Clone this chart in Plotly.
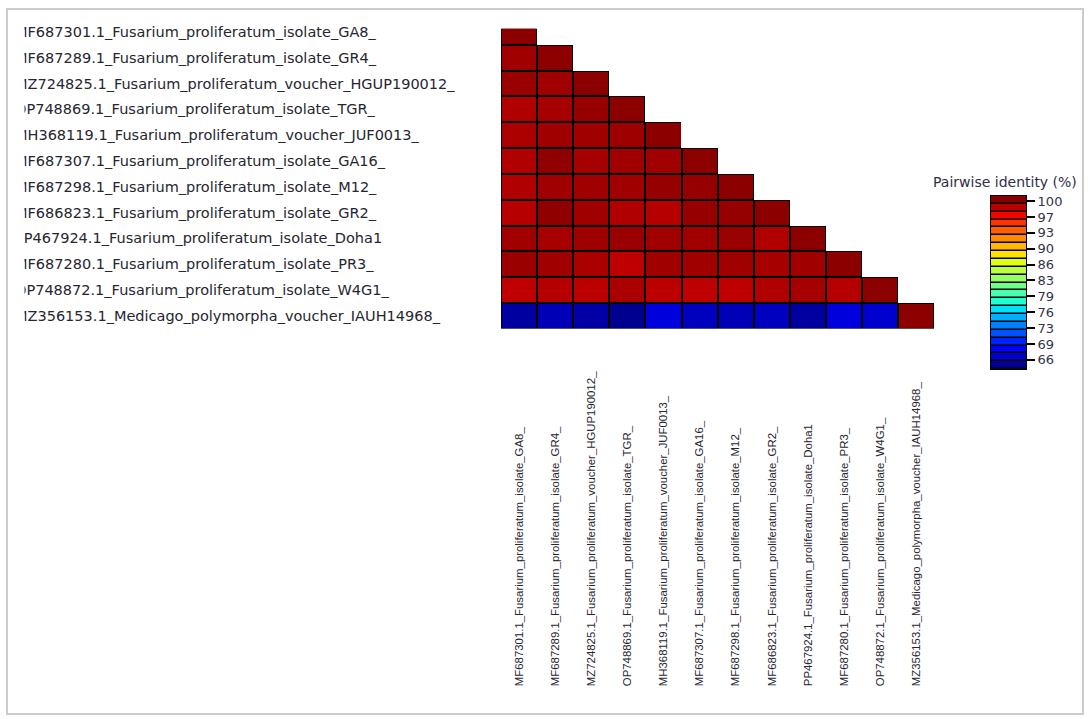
import numpy as np
import plotly.graph_objects as go

# ---------------- data ----------------
sequences = [
    "MF687301.1_Fusarium_proliferatum_isolate_GA8_",
    "MF687289.1_Fusarium_proliferatum_isolate_GR4_",
    "MZ724825.1_Fusarium_proliferatum_voucher_HGUP190012_",
    "OP748869.1_Fusarium_proliferatum_isolate_TGR_",
    "MH368119.1_Fusarium_proliferatum_voucher_JUF0013_",
    "MF687307.1_Fusarium_proliferatum_isolate_GA16_",
    "MF687298.1_Fusarium_proliferatum_isolate_M12_",
    "MF686823.1_Fusarium_proliferatum_isolate_GR2_",
    "PP467924.1_Fusarium_proliferatum_isolate_Doha1",
    "MF687280.1_Fusarium_proliferatum_isolate_PR3_",
    "OP748872.1_Fusarium_proliferatum_isolate_W4G1_",
    "MZ356153.1_Medicago_polymorpha_voucher_IAUH14968_",
]

# pairwise identity (%) – lower triangle, one list per row
row_GA8 = [100.0]
row_GR4 = [99.4, 100.0]
row_HGUP = [99.55, 99.4, 100.0]
row_TGR = [98.9, 99.2, 99.7, 100.0]
row_JUF = [99.05, 99.4, 99.4, 99.45, 100.0]
row_GA16 = [98.9, 99.9, 99.2, 99.4, 99.4, 100.0]
row_M12 = [98.9, 99.4, 99.4, 99.4, 99.7, 99.7, 100.0]
row_GR2 = [98.7, 99.9, 99.4, 98.9, 98.7, 99.7, 99.7, 100.0]
row_Doha1 = [99.4, 99.2, 99.4, 99.55, 99.35, 99.4, 99.55, 98.9, 100.0]
row_PR3 = [99.55, 99.4, 99.05, 98.45, 99.4, 99.35, 99.4, 99.2, 99.4, 100.0]
row_W4G1 = [98.4, 98.7, 98.5, 99.05, 98.5, 98.4, 98.4, 98.9, 99.2, 98.7, 100.0]
row_IAUH = [65.0, 65.7, 65.2, 64.5, 67.0, 66.0, 65.7, 66.0, 65.0, 67.0, 66.5, 100.0]

colorbar_tickvals = [100, 96.58, 93.16, 89.74, 86.32, 82.9, 79.48, 76.06, 72.64, 69.22, 65.8]
colorbar_ticktext = ["100", "97", "93", "90", "86", "83", "79", "76", "73", "69", "66"]

# ---------------- styling / geometry ----------------
W, H = 1090, 719
def fx(px): return px / W
def fy(py): return 1 - py / H

jet_scale = [
    [0.0, "#000080"], [0.11, "#0000FF"], [0.125, "#0000FF"], [0.34, "#00DBFF"],
    [0.35, "#00E5F6"], [0.375, "#14FFE2"], [0.64, "#EEFF08"], [0.66, "#FFEC00"],
    [0.89, "#FF1300"], [0.91, "#E80000"], [1.0, "#800000"],
]
ZMIN, ZMAX = 64.0, 100.4
BAR_LO, BAR_HI, N_BANDS = 63.8, 101.1, 22

identity_rows = [row_GA8, row_GR4, row_HGUP, row_TGR, row_JUF, row_GA16,
                 row_M12, row_GR2, row_Doha1, row_PR3, row_W4G1, row_IAUH]
n = len(sequences)
idx = list(range(n))
z = [[(identity_rows[i][j] if j <= i else None) for j in range(n)] for i in range(n)]
z_under = [[(1 if j <= i else None) for j in range(n)] for i in range(n)]

band_w = (BAR_HI - BAR_LO) / N_BANDS
band_centers = [BAR_LO + band_w * (k + 0.5) for k in range(N_BANDS)]

black_scale = [[0, "black"], [1, "black"]]

fig = go.Figure()
# black underlay (cell borders)
fig.add_trace(go.Heatmap(x=idx, y=idx, z=z_under, colorscale=black_scale, zmin=0, zmax=1,
                         showscale=False, hoverinfo="skip", xaxis="x", yaxis="y"))
# identity cells
fig.add_trace(go.Heatmap(x=idx, y=idx, z=z, colorscale=jet_scale, zmin=ZMIN, zmax=ZMAX,
                         xgap=2, ygap=2, showscale=False, xaxis="x2", yaxis="y2",
                         hovertemplate="%{z:.2f}%<extra></extra>"))
# colour key
fig.add_trace(go.Heatmap(x=[0], y=band_centers, z=[[1] for _ in band_centers],
                         colorscale=black_scale, zmin=0, zmax=1, showscale=False,
                         hoverinfo="skip", xaxis="x3", yaxis="y3"))
fig.add_trace(go.Heatmap(x=[0], y=band_centers, z=[[c] for c in band_centers],
                         colorscale=jet_scale, zmin=ZMIN, zmax=ZMAX, ygap=1.5,
                         showscale=False, hoverinfo="skip", xaxis="x3", yaxis="y3"))

hidden = dict(showticklabels=False, showgrid=False, zeroline=False, showline=False, ticks="")
label_font = dict(family="DejaVu Sans", size=14.5, color="#262630")
bottom_font = dict(family="Liberation Sans, Arial", size=11.4, color="#262630")

fig.update_layout(
    width=W, height=H,
    margin=dict(l=0, r=0, t=0, b=0),
    paper_bgcolor="white", plot_bgcolor="white",
    showlegend=False,
    xaxis=dict(domain=[fx(501), fx(934.3)], range=[-0.5, 11.5], anchor="y", **hidden),
    yaxis=dict(domain=[fy(326), fy(24)], range=[11.5, -0.115], anchor="x", **hidden),
    xaxis2=dict(overlaying="x", range=[-0.5, 11.5], side="top", anchor="free",
                position=fy(686), tickmode="array", tickvals=idx, ticktext=sequences,
                tickangle=-90, ticks="", showgrid=False, zeroline=False, showline=False,
                tickfont=bottom_font),
    yaxis2=dict(overlaying="y", range=[11.5, -0.115], side="right", anchor="free",
                position=fx(14), tickmode="array", tickvals=idx, ticktext=sequences,
                ticks="", showgrid=False, zeroline=False, showline=False,
                tickfont=label_font),
    xaxis3=dict(domain=[fx(991), fx(1026)], anchor="y3", range=[-0.5, 0.5],
                showticklabels=False, showgrid=False, zeroline=False, ticks="",
                showline=True, mirror=True, linecolor="black", linewidth=1),
    yaxis3=dict(domain=[fy(366.7), fy(192.3)], anchor="x3", side="right",
                range=[BAR_LO, BAR_HI], tickmode="array", tickvals=colorbar_tickvals,
                ticktext=colorbar_ticktext, ticks="outside", ticklen=8, tickwidth=2,
                tickcolor="black", showline=True, mirror=True, linecolor="black",
                linewidth=1, showgrid=False, zeroline=False,
                tickfont=dict(family="DejaVu Sans", size=13, color="#33334a")),
    annotations=[dict(text="Pairwise identity (%)", x=fx(1005), y=fy(178),
                      xref="paper", yref="paper", xanchor="center", yanchor="middle",
                      showarrow=False,
                      font=dict(family="DejaVu Sans", size=14, color="#2e2e48"))],
    shapes=[
        # clipped left edge of the original window
        dict(type="rect", xref="paper", yref="paper", x0=fx(9), x1=fx(24.5),
             y0=fy(335), y1=fy(12), fillcolor="white", line=dict(width=0), layer="above"),
        # window frame
        dict(type="rect", xref="paper", yref="paper", x0=fx(7), x1=fx(1083),
             y0=fy(714), y1=fy(4), line=dict(color="#cccccc", width=2),
             fillcolor="rgba(0,0,0,0)", layer="above"),
    ],
)

fig.write_html("out.html",
               config={"displayModeBar": False},
               post_script="document.body.style.margin='0';"
                           "document.body.style.overflow='hidden';")
